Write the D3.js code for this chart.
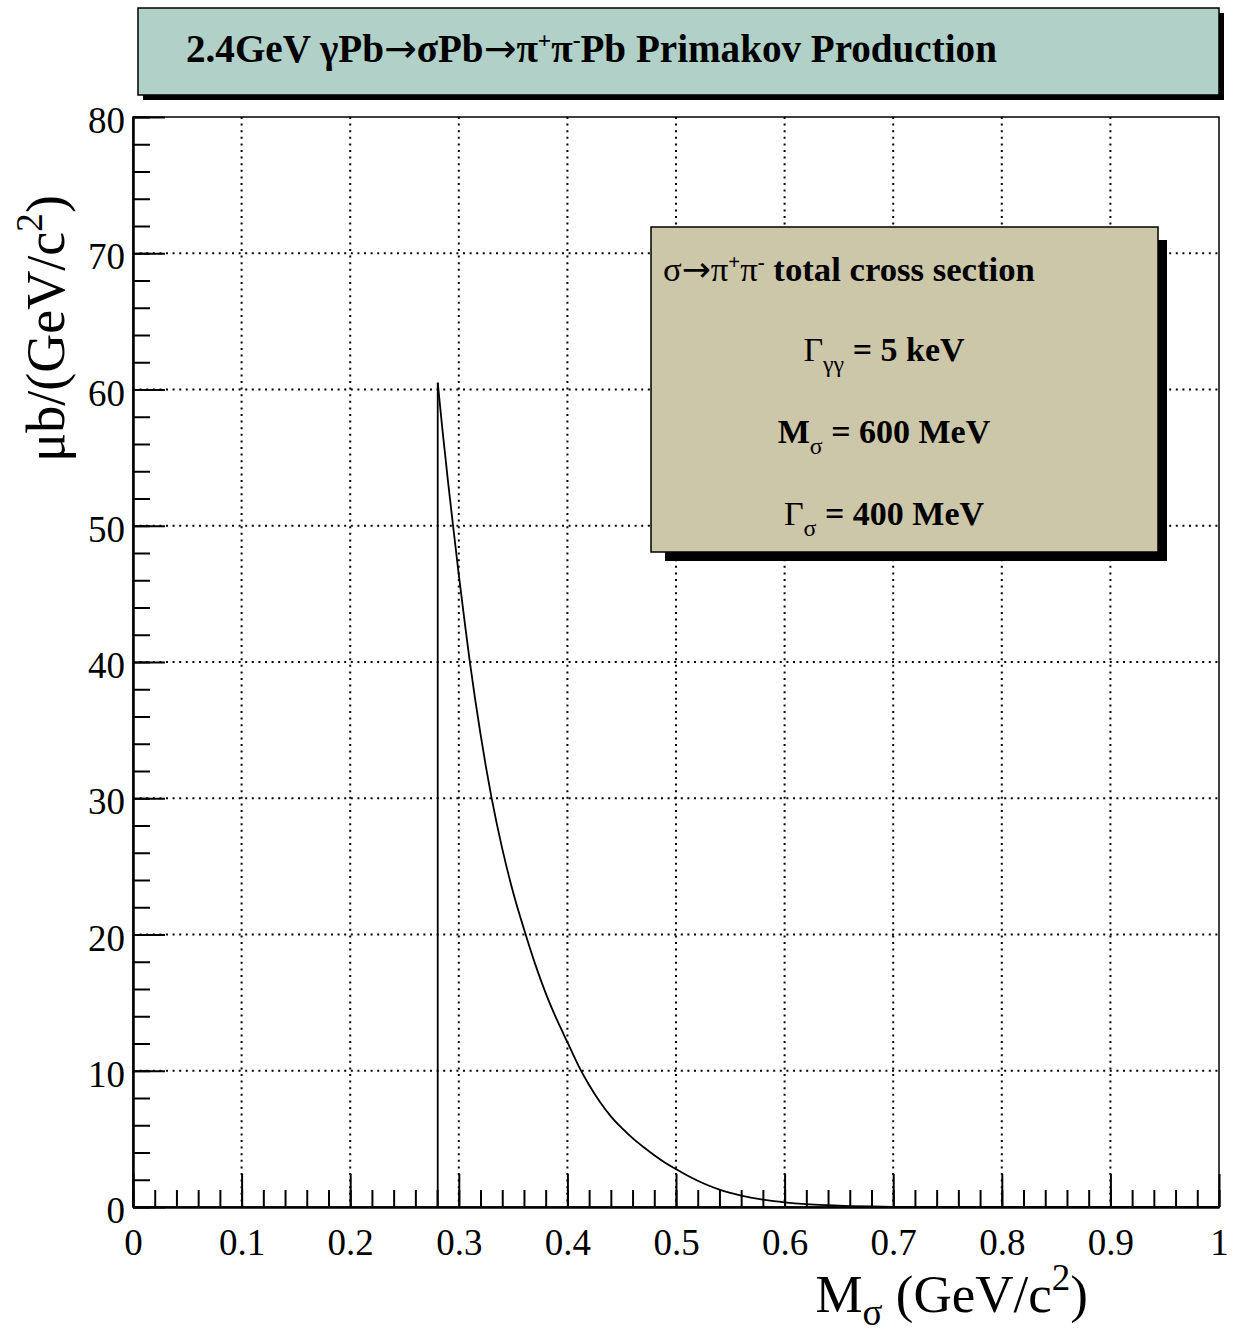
<!DOCTYPE html>
<html>
<head>
<meta charset="utf-8">
<script src="https://cdn.jsdelivr.net/npm/d3@7/dist/d3.min.js"></script>
<style>
  body { margin: 0; background: #fff; }
  svg text { font-family: "Liberation Serif", "Times New Roman", serif; }
  .arrow { font-family: "DejaVu Sans", sans-serif; font-weight: normal; }
</style>
</head>
<body>
<div id="chart"></div>
<script>
// cross section curve: M (GeV/c^2) -> ub/(GeV/c^2)
const massValues = [0.2806, 0.285, 0.290, 0.295, 0.300, 0.305, 0.310, 0.315, 0.320, 0.325,
    0.330, 0.340, 0.350, 0.360, 0.370, 0.380, 0.390, 0.400, 0.410, 0.420, 0.430, 0.440,
    0.450, 0.460, 0.470, 0.480, 0.490, 0.500, 0.510, 0.520, 0.530, 0.540, 0.550, 0.560,
    0.570, 0.580, 0.590, 0.600, 0.620, 0.640, 0.660, 0.680, 0.700, 0.750, 0.800, 1.000];
const xsecValues = [60.5, 57.0, 53.3, 49.8, 46.4, 43.2, 40.1, 37.3, 34.7, 32.3,
    30.1, 26.3, 23.1, 20.4, 17.9, 15.7, 13.8, 12.1, 10.4, 8.95, 7.7, 6.65,
    5.8, 5.05, 4.4, 3.8, 3.25, 2.78, 2.33, 1.93, 1.58, 1.28, 1.03, 0.83,
    0.67, 0.54, 0.43, 0.34, 0.21, 0.13, 0.07, 0.035, 0.015, 0.003, 0.0, 0.0];

const xTicks = [0, 0.1, 0.2, 0.3, 0.4, 0.5, 0.6, 0.7, 0.8, 0.9, 1];
const xTickLabels = ["0", "0.1", "0.2", "0.3", "0.4", "0.5", "0.6", "0.7", "0.8", "0.9", "1"];
const yTicks = [0, 10, 20, 30, 40, 50, 60, 70, 80];

const legendLines = [
    {main: "Γ", bold: false, sub: "γγ", rest: " = 5 keV"},
    {main: "M", bold: true, sub: "σ", rest: " = 600 MeV"},
    {main: "Γ", bold: false, sub: "σ", rest: " = 400 MeV"}
];

let width = 1238, height = 1334;
let margin = {top: 117, right: 19, bottom: 127, left: 133};
let plotW = width - margin.left - margin.right;
let plotH = height - margin.top - margin.bottom;

let svg = d3.select("#chart").append("svg")
    .attr("width", width)
    .attr("height", height);

// title box with drop shadow
svg.append("rect").attr("x", 143).attr("y", 13).attr("width", 1081).attr("height", 87).attr("fill", "#000");
svg.append("rect").attr("x", 138).attr("y", 8).attr("width", 1081).attr("height", 87)
    .attr("fill", "#b0d0c8").attr("stroke", "#000").attr("stroke-width", 1.5);

let title = svg.append("text")
    .attr("x", 186).attr("y", 62)
    .attr("font-size", 36).attr("font-weight", "bold");
title.append("tspan").text("2.4GeV γPb");
title.append("tspan").attr("class", "arrow").text("→");
title.append("tspan").text("σPb");
title.append("tspan").attr("class", "arrow").text("→");
title.append("tspan").text("π");
title.append("tspan").attr("dy", -14).attr("font-size", "0.6em").text("+");
title.append("tspan").attr("dy", 14).text("π");
title.append("tspan").attr("dy", -14).attr("font-size", "0.6em").text("-");
title.append("tspan").attr("dy", 14).text("Pb Primakov Production");
fitText(title, 811);

let g = svg.append("g")
    .attr("transform", "translate(" + margin.left + "," + margin.top + ")");

let x = d3.scaleLinear().domain([0, 1]).range([0, plotW]);
let y = d3.scaleLinear().domain([0, 80]).range([plotH, 0]);

// dotted grid
let grid = g.append("g").attr("stroke", "#000").attr("stroke-width", 2)
    .attr("stroke-dasharray", "2,4.6");
grid.selectAll(".gx").data(xTicks.slice(1, -1)).enter().append("line")
    .attr("x1", d => x(d)).attr("x2", d => x(d))
    .attr("y1", 0).attr("y2", plotH);
grid.selectAll(".gy").data(yTicks.slice(1, -1)).enter().append("line")
    .attr("x1", 0).attr("x2", plotW)
    .attr("y1", d => y(d)).attr("y2", d => y(d));

// frame
g.append("rect").attr("width", plotW).attr("height", plotH)
    .attr("fill", "none").attr("stroke", "#000").attr("stroke-width", 1.5);

// minor ticks
let xMinor = d3.range(0, 1.0001, 0.02);
let yMinor = d3.range(0, 80.001, 2);
g.append("g")
    .attr("transform", "translate(0," + plotH + ")")
    .call(d3.axisBottom(x).tickValues(xMinor).tickSize(-17).tickSizeOuter(0).tickFormat(""))
    .call(a => a.selectAll("line").attr("stroke-width", 2));
g.append("g")
    .call(d3.axisLeft(y).tickValues(yMinor).tickSize(-17).tickSizeOuter(0).tickFormat(""))
    .call(a => a.selectAll("line").attr("stroke-width", 2));

// major ticks and labels
let xAxis = g.append("g")
    .attr("transform", "translate(0," + plotH + ")")
    .call(d3.axisBottom(x).tickValues(xTicks).tickSize(-33).tickSizeOuter(0)
        .tickPadding(22).tickFormat((d, i) => xTickLabels[i]));
let yAxis = g.append("g")
    .call(d3.axisLeft(y).tickValues(yTicks).tickSize(-32).tickSizeOuter(0)
        .tickPadding(8).tickFormat(d3.format("d")));
[xAxis, yAxis].forEach(a => {
    a.selectAll("line").attr("stroke-width", 2);
    a.select(".domain").attr("stroke-width", 2.5);
    a.selectAll("text").attr("font-size", 37).attr("fill", "#000")
        .style("font-family", "'Liberation Serif', serif");
});
yAxis.selectAll("text").attr("dy", "0.42em");

// curve: vertical edge at threshold, then the falling shape
let pts = massValues.map((m, i) => [m, xsecValues[i]]);
g.append("line")
    .attr("x1", x(pts[0][0])).attr("x2", x(pts[0][0]))
    .attr("y1", y(0)).attr("y2", y(pts[0][1]))
    .attr("stroke", "#000").attr("stroke-width", 1.8);
let line = d3.line()
    .x(d => x(d[0]))
    .y(d => y(d[1]))
    .curve(d3.curveMonotoneX);
g.append("path").datum(pts)
    .attr("d", line)
    .attr("fill", "none").attr("stroke", "#000").attr("stroke-width", 1.8);

// legend box with shadow
svg.append("rect").attr("x", 665).attr("y", 240).attr("width", 502).attr("height", 321).attr("fill", "#000");
svg.append("rect").attr("x", 651).attr("y", 227).attr("width", 507).attr("height", 325)
    .attr("fill", "#cdc7aa").attr("stroke", "#000").attr("stroke-width", 1.5);

let lt = svg.append("text").attr("x", 663).attr("y", 281)
    .attr("font-size", 31).attr("font-weight", "bold");
lt.append("tspan").attr("font-weight", "normal").text("σ");
lt.append("tspan").attr("class", "arrow").text("→");
lt.append("tspan").attr("font-weight", "normal").text("π");
lt.append("tspan").attr("dy", -12).attr("font-size", "0.6em").text("+");
lt.append("tspan").attr("dy", 12).attr("font-weight", "normal").text("π");
lt.append("tspan").attr("dy", -12).attr("font-size", "0.6em").text("-");
lt.append("tspan").attr("dy", 12).text(" total cross section");
fitText(lt, 372);

let legendY = [361, 443, 525];
legendLines.forEach((d, i) => {
    let t = svg.append("text").attr("x", 884).attr("y", legendY[i])
        .attr("text-anchor", "middle").attr("font-size", 34).attr("font-weight", "bold");
    t.append("tspan").attr("font-weight", d.bold ? "bold" : "normal").text(d.main);
    t.append("tspan").attr("dy", 11).attr("font-size", "0.7em").attr("font-weight", "normal").text(d.sub);
    t.append("tspan").attr("dy", -11).text(d.rest);
});

// axis titles
let xt = svg.append("text").attr("x", 1088).attr("y", 1312)
    .attr("text-anchor", "end").attr("font-size", 53);
xt.append("tspan").text("M");
xt.append("tspan").attr("dy", 13).attr("font-size", "0.7em").text("σ");
xt.append("tspan").attr("dy", -13).text(" (GeV/c");
xt.append("tspan").attr("dy", -22).attr("font-size", "0.7em").text("2");
xt.append("tspan").attr("dy", 22).text(")");

let yt = svg.append("text")
    .attr("transform", "translate(64,195) rotate(-90)")
    .attr("text-anchor", "end").attr("font-size", 54);
yt.append("tspan").text("μb/(GeV/c");
yt.append("tspan").attr("dy", -22).attr("font-size", "0.7em").text("2");
yt.append("tspan").attr("dy", 22).text(")");

function fitText(sel, target) {
    let w = sel.node().getComputedTextLength();
    let fs = parseFloat(sel.attr("font-size"));
    if (w > 0) sel.attr("font-size", fs * target / w);
}
</script>
</body>
</html>
